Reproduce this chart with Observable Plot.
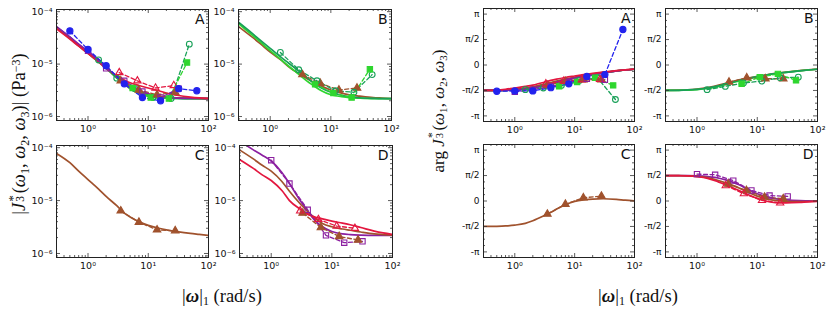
<!DOCTYPE html>
<html><head><meta charset="utf-8">
<script src="https://cdn.jsdelivr.net/npm/d3@7"></script>
<script src="https://cdn.jsdelivr.net/npm/@observablehq/plot@0.6"></script>
<style>
body{margin:0;background:#fff;}
#fig{position:relative;width:830px;height:312px;overflow:hidden;background:#fff;}
.panel{position:absolute;}
.lab{position:absolute;font-family:"Liberation Serif","DejaVu Serif",serif;font-size:18.5px;white-space:nowrap;color:#111;line-height:1;}
.ss{display:inline-block;position:relative;width:0.45em;height:1em;vertical-align:baseline;margin-left:0.06em;}
.s1{position:absolute;left:0.02em;top:-0.02em;font-size:0.68em;line-height:1;}
.s2{position:absolute;left:0.0em;top:0.74em;font-size:0.62em;line-height:1;}
.sb{font-size:0.65em;vertical-align:-0.3em;}
.sp{font-size:0.65em;vertical-align:0.45em;}
</style></head><body><div id="fig"></div><script>
const PI = Math.PI;
// shared x grid for the fitted curves (rad/s)
const xGrid = [0.3,0.5,0.7,1,1.5,2,3,4,5,7,10,15,20,30,50,70,100];

// colours
const cBlue="#2222ee", cPurple="#8b1fa0", cTeal="#18a058", cGreen="#2ed62e", cBrown="#a0522d", cRed="#e3173f";

// ---------- magnitude fit curves ----------
const magA_red    = [4.7e-5,3.0e-5,2.2e-5,1.6e-5,1.1e-5,8.2e-6,6.0e-6,5.0e-6,4.4e-6,3.9e-6,3.5e-6,3.1e-6,2.8e-6,2.55e-6,2.35e-6,2.27e-6,2.22e-6];
const magA_purple = [5.2e-5,3.3e-5,2.4e-5,1.75e-5,1.2e-5,8.8e-6,5.6e-6,4.2e-6,3.5e-6,2.85e-6,2.5e-6,2.35e-6,2.28e-6,2.24e-6,2.22e-6,2.21e-6,2.2e-6];
const magA_blue   = [5.1e-5,3.25e-5,2.35e-5,1.7e-5,1.17e-5,8.7e-6,5.6e-6,4.3e-6,3.6e-6,2.9e-6,2.55e-6,2.37e-6,2.3e-6,2.25e-6,2.22e-6,2.21e-6,2.2e-6];
const magA_teal   = [5.0e-5,3.2e-5,2.3e-5,1.65e-5,1.15e-5,8.6e-6,5.6e-6,4.3e-6,3.6e-6,2.9e-6,2.5e-6,2.3e-6,2.25e-6,2.22e-6,2.2e-6,2.2e-6,2.2e-6];
const magA_green  = [4.9e-5,3.1e-5,2.25e-5,1.6e-5,1.1e-5,8.3e-6,5.4e-6,4.1e-6,3.4e-6,2.75e-6,2.42e-6,2.28e-6,2.24e-6,2.21e-6,2.2e-6,2.2e-6,2.2e-6];
const magA_brown  = [4.9e-5,3.1e-5,2.25e-5,1.6e-5,1.1e-5,8.4e-6,5.8e-6,4.5e-6,3.8e-6,3.1e-6,2.7e-6,2.45e-6,2.35e-6,2.27e-6,2.23e-6,2.21e-6,2.2e-6];
const magB_teal   = [6.3e-5,3.9e-5,2.8e-5,2.0e-5,1.36e-5,1.05e-5,7.3e-6,5.6e-6,4.5e-6,3.5e-6,2.9e-6,2.55e-6,2.4e-6,2.28e-6,2.22e-6,2.2e-6,2.2e-6];
const magB_green  = [5.9e-5,3.6e-5,2.6e-5,1.8e-5,1.22e-5,9.2e-6,6.3e-6,4.8e-6,4.0e-6,3.1e-6,2.6e-6,2.4e-6,2.3e-6,2.24e-6,2.2e-6,2.2e-6,2.2e-6];
const magB_brown  = [5.2e-5,3.3e-5,2.4e-5,1.7e-5,1.2e-5,9.0e-6,6.5e-6,5.3e-6,4.6e-6,3.8e-6,3.2e-6,2.8e-6,2.6e-6,2.45e-6,2.3e-6,2.25e-6,2.2e-6];
const magC_brown  = [7.8e-5,5.2e-5,3.6e-5,2.5e-5,1.65e-5,1.2e-5,8.0e-6,5.8e-6,4.9e-6,4.0e-6,3.4e-6,3.0e-6,2.8e-6,2.6e-6,2.4e-6,2.3e-6,2.2e-6];
const magD_purple = [1.35e-4,9.2e-5,7.3e-5,5.6e-5,3.4e-5,2.1e-5,1.0e-5,6.3e-6,4.5e-6,3.2e-6,2.6e-6,2.35e-6,2.28e-6,2.23e-6,2.2e-6,2.2e-6,2.2e-6];
const magD_brown  = [9.1e-5,6.2e-5,4.7e-5,3.6e-5,2.3e-5,1.5e-5,8.7e-6,6.2e-6,4.9e-6,3.7e-6,3.2e-6,2.9e-6,2.75e-6,2.55e-6,2.35e-6,2.28e-6,2.22e-6];
const magD_red    = [6.0e-5,4.1e-5,3.1e-5,2.4e-5,1.55e-5,1.0e-5,6.9e-6,5.6e-6,5.0e-6,4.5e-6,4.1e-6,3.75e-6,3.5e-6,3.1e-6,2.65e-6,2.45e-6,2.3e-6];

// ---------- phase fit curves (rad) ----------
const phA_red    = [-1.57,-1.55,-1.50,-1.42,-1.32,-1.24,-1.08,-0.95,-0.87,-0.77,-0.68,-0.58,-0.52,-0.44,-0.35,-0.30,-0.25];
const phA_purple = [-1.57,-1.57,-1.56,-1.54,-1.49,-1.42,-1.28,-1.16,-1.06,-0.92,-0.80,-0.66,-0.58,-0.47,-0.37,-0.31,-0.26];
const phA_blue   = [-1.57,-1.57,-1.56,-1.53,-1.48,-1.41,-1.27,-1.15,-1.05,-0.91,-0.79,-0.66,-0.58,-0.47,-0.37,-0.31,-0.26];
const phA_teal   = [-1.57,-1.57,-1.56,-1.53,-1.47,-1.40,-1.27,-1.16,-1.07,-0.94,-0.82,-0.68,-0.59,-0.48,-0.37,-0.31,-0.26];
const phA_green  = [-1.57,-1.57,-1.56,-1.52,-1.45,-1.38,-1.24,-1.12,-1.03,-0.90,-0.78,-0.65,-0.57,-0.47,-0.36,-0.31,-0.26];
const phA_brown  = [-1.57,-1.56,-1.55,-1.51,-1.43,-1.35,-1.20,-1.08,-0.99,-0.87,-0.76,-0.64,-0.56,-0.46,-0.36,-0.30,-0.25];
const phB_teal   = [-1.57,-1.56,-1.54,-1.50,-1.42,-1.33,-1.17,-1.04,-0.95,-0.83,-0.72,-0.60,-0.53,-0.45,-0.36,-0.31,-0.26];
const phB_green  = [-1.57,-1.56,-1.55,-1.52,-1.45,-1.37,-1.21,-1.08,-0.98,-0.85,-0.73,-0.61,-0.54,-0.45,-0.36,-0.31,-0.26];
const phB_brown  = [-1.57,-1.55,-1.53,-1.48,-1.39,-1.30,-1.13,-1.00,-0.91,-0.80,-0.70,-0.59,-0.52,-0.44,-0.35,-0.30,-0.25];
const phC_brown  = [-1.57,-1.56,-1.54,-1.49,-1.38,-1.22,-0.93,-0.70,-0.50,-0.23,-0.02,0.08,0.12,0.14,0.10,0.05,0.01];
const phD_purple = [1.571,1.57,1.565,1.55,1.51,1.45,1.30,1.15,1.00,0.72,0.45,0.25,0.15,0.07,0.02,0.01,0.0];
const phD_brown  = [1.57,1.565,1.555,1.52,1.45,1.33,1.12,0.95,0.80,0.55,0.30,0.12,0.04,-0.02,-0.04,-0.03,-0.01];
const phD_red    = [1.57,1.56,1.545,1.50,1.40,1.26,1.00,0.80,0.64,0.40,0.16,-0.03,-0.10,-0.12,-0.09,-0.05,-0.02];

// ---------- measured points ----------
// panel A
const A_blue_x = [0.5,1,2,4,8,16,32,64];
const A_blue_mag = [4.3e-5,1.9e-5,9.3e-6,4.2e-6,2.3e-6,2.0e-6,3.4e-6,3.1e-6];
const A_blue_ph = [-1.62,-1.60,-1.60,-1.40,-1.16,-0.71,-0.59,2.19];
const A_purple_x = [1,2,4,8,16,32];
const A_purple_mag = [1.8e-5,8.3e-6,4.8e-6,3.0e-6,2.3e-6,3.4e-6];
const A_purple_ph = [-1.66,-1.52,-1.32,-1.05,-0.85,-0.91];
const A_teal_x = [1.5,3,6,12,24,48];
const A_teal_mag = [1.2e-5,5.4e-6,3.4e-6,2.3e-6,2.2e-6,2.4e-5];
const A_teal_ph = [-1.52,-1.42,-1.26,-0.95,-0.79,-2.13];
const A_green_x = [5.5,11,22,44];
const A_green_mag = [3.5e-6,2.3e-6,2.2e-6,1.07e-5];
const A_green_ph = [-1.32,-1.05,-0.79,-1.26];
const A_brown_x = [3.5,7,14,28];
const A_brown_mag = [4.8e-6,3.2e-6,2.6e-6,2.9e-6];
const A_brown_ph = [-1.26,-1.01,-0.91,-0.91];
const A_red_x = [3.3,6.6,13.2,26.5];
const A_red_mag = [6.9e-6,4.8e-6,3.5e-6,3.9e-6];
const A_red_ph = [-1.16,-0.99,-0.91,-0.89];
// panel B
const B_teal_x = [1.47,2.95,5.9,11.9,24,48];
const B_teal_mag = [1.67e-5,7.8e-6,4.8e-6,3.1e-6,2.9e-6,6.3e-6];
const B_teal_ph = [-1.52,-1.32,-1.11,-0.99,-0.79,-0.75];
const B_green_x = [5.5,11,22,44];
const B_green_mag = [4.1e-6,2.8e-6,2.3e-6,8.0e-6];
const B_green_ph = [-1.16,-0.75,-0.55,-0.95];
const B_brown_x = [3.4,6.7,13.6,27];
const B_brown_mag = [6.3e-6,4.3e-6,3.2e-6,3.5e-6];
const B_brown_ph = [-1.05,-0.79,-0.85,-0.85];
// panel C
const C_brown_x = [3.5,7,14,28];
const C_brown_mag = [6.4e-6,3.9e-6,2.8e-6,2.7e-6];
const C_brown_ph = [-0.81,-0.20,0.20,0.30];
// panel D
const D_purple_x = [1,2,4,8,16,32];
const D_purple_mag = [5.8e-5,2.1e-5,6.7e-6,2.2e-6,1.6e-6,1.7e-6];
const D_purple_ph = [1.66,1.62,1.26,0.65,0.34,0.28];
const D_brown_x = [3.3,6.6,13.2,27];
const D_brown_mag = [5.8e-6,3.1e-6,2.1e-6,1.8e-6];
const D_brown_ph = [1.05,0.65,0.24,0.14];
const D_red_x = [3,6,12,24];
const D_red_mag = [6.4e-6,4.4e-6,3.3e-6,3.0e-6];
const D_red_ph = [0.95,0.45,0.04,-0.12];

// tick labels
const xMajor = [1,10,100];
const xMajorLabels = ["10⁰","10¹","10²"];
const magMajor = [1e-6,1e-5,1e-4];
const magMajorLabels = ["10⁻⁶","10⁻⁵","10⁻⁴"];
const phMajor = [-PI,-PI/2,0,PI/2,PI];
const phMajorLabels = ["-π","-π/2","0","π/2","π"];
const panelLetters = ["A","B","C","D"];

// symbol styles per series
const sty = {
  blue:   {col:cBlue,   sym:"circle",   filled:true,  r:3.1},
  purple: {col:cPurple, sym:"square",   filled:false, r:3.0},
  teal:   {col:cTeal,   sym:"circle",   filled:false, r:2.9},
  green:  {col:cGreen,  sym:"square",   filled:true,  r:3.0},
  brown:  {col:cBrown,  sym:"triangle", filled:true,  r:2.8},
  red:    {col:cRed,    sym:"triangle", filled:false, r:2.7}
};

// minor ticks
const xMinor = [];
[0.1,1,10].forEach(b => [2,3,4,5,6,7,8,9].forEach(m => { const v=b*m; if (v>=0.3 && v<100) xMinor.push(v); }));
const magMinor = [9e-7];
[1e-6,1e-5].forEach(b => [2,3,4,5,6,7,8,9].forEach(m => magMinor.push(b*m)));
const phMinor = d3.range(-8,9).map(k => k*PI/8).filter((v,i) => i%4 !== 0);

const fig = document.getElementById("fig");

function tickMarks(w, h, yMaj, yMin) {
  const st = {stroke:"#333", strokeWidth:0.8};
  const L = 4, S = 2;
  return [
    Plot.tickX(xMajor, {x:d=>d, insetTop:h-L, ...st}),
    Plot.tickX(xMajor, {x:d=>d, insetBottom:h-L, ...st}),
    Plot.tickX(xMinor, {x:d=>d, insetTop:h-S, ...st}),
    Plot.tickX(xMinor, {x:d=>d, insetBottom:h-S, ...st}),
    Plot.tickY(yMaj, {y:d=>d, insetRight:w-L, ...st}),
    Plot.tickY(yMaj, {y:d=>d, insetLeft:w-L, ...st}),
    Plot.tickY(yMin, {y:d=>d, insetRight:w-S, ...st}),
    Plot.tickY(yMin, {y:d=>d, insetLeft:w-S, ...st})
  ];
}

function panel(cfg) {
  const {l, t, w, h, kind, curves, series, letter} = cfg;
  const mL = 42, mR = 12, mT = 6, mB = 24;
  const isMag = kind === "mag";
  const yScale = isMag ? {type:"log", domain:[8.4e-7, 1.1e-4]} : {type:"linear", domain:[-1.11*PI, 1.11*PI]};
  const yMaj = isMag ? magMajor : phMajor;
  const yMin = isMag ? magMinor : phMinor;
  const yLab = isMag ? magMajorLabels : phMajorLabels;
  const marks = [];
  curves.forEach(c => {
    marks.push(Plot.line(xGrid.map((x,i)=>({x, y:c.y[i]})), {x:"x", y:"y", stroke:c.col, strokeWidth:1.7, curve:"monotone-x", clip:true}));
  });
  series.forEach(s => {
    const rows = s.x.map((x,i)=>({x, y:s.y[i]}));
    marks.push(Plot.line(rows, {x:"x", y:"y", stroke:s.col, strokeWidth:1.3, strokeDasharray:"4,2.5", clip:true}));
  });
  series.forEach(s => {
    const rows = s.x.map((x,i)=>({x, y:s.y[i]}));
    marks.push(Plot.dot(rows, {x:"x", y:"y", symbol:s.sym, r:s.r, fill:s.filled ? s.col : "none", stroke:s.col, strokeWidth:1.1}));
  });
  marks.push(...tickMarks(w, h, yMaj, yMin));
  marks.push(Plot.frame({stroke:"#222", strokeWidth:1}));
  marks.push(Plot.axisX(xMajor, {tickSize:0, tickPadding:5, tickFormat:(d)=>xMajorLabels[xMajor.indexOf(d)], label:null, fontSize:9.5}));
  marks.push(Plot.axisY(yMaj, {tickSize:0, tickPadding:4, tickFormat:(d)=>yLab[yMaj.indexOf(d)], label:null, fontSize:isMag?9.5:9}));
  marks.push(Plot.text([letter], {text:d=>d, frameAnchor:"top-right", dx:-4, dy:5, fontSize:14, lineAnchor:"top", textAnchor:"end", fill:"#111"}));
  const chart = Plot.plot({
    width: w + mL + mR, height: h + mT + mB,
    marginLeft: mL, marginRight: mR, marginTop: mT, marginBottom: mB,
    x: {type:"log", domain:[0.3, 100]},
    y: yScale,
    style: {fontFamily:"'DejaVu Sans', sans-serif", fontSize:"9.5px", color:"#111", background:"transparent", overflow:"visible"},
    marks
  });
  const d = document.createElement("div");
  d.className = "panel";
  d.style.left = (l - mL) + "px";
  d.style.top = (t - mT) + "px";
  d.appendChild(chart);
  fig.appendChild(d);
}

const S = (name, x, y) => ({...sty[name], x, y});
const Cv = (col, y) => ({col, y});

// magnitude panels
panel({l:56, t:9, w:152, h:111, kind:"mag", letter:panelLetters[0],
  curves:[Cv(cBlue,magA_blue),Cv(cTeal,magA_teal),Cv(cGreen,magA_green),Cv(cBrown,magA_brown),Cv(cPurple,magA_purple),Cv(cRed,magA_red)],
  series:[S("teal",A_teal_x,A_teal_mag),S("green",A_green_x,A_green_mag),S("brown",A_brown_x,A_brown_mag),S("red",A_red_x,A_red_mag),S("purple",A_purple_x,A_purple_mag),S("blue",A_blue_x,A_blue_mag)]});
panel({l:238, t:9, w:153, h:111, kind:"mag", letter:panelLetters[1],
  curves:[Cv(cBrown,magB_brown),Cv(cGreen,magB_green),Cv(cTeal,magB_teal)],
  series:[S("brown",B_brown_x,B_brown_mag),S("teal",B_teal_x,B_teal_mag),S("green",B_green_x,B_green_mag)]});
panel({l:56, t:145, w:152, h:112, kind:"mag", letter:panelLetters[2],
  curves:[Cv(cBrown,magC_brown)],
  series:[S("brown",C_brown_x,C_brown_mag)]});
panel({l:239, t:145, w:153, h:112, kind:"mag", letter:panelLetters[3],
  curves:[Cv(cPurple,magD_purple),Cv(cBrown,magD_brown),Cv(cRed,magD_red)],
  series:[S("purple",D_purple_x,D_purple_mag),S("brown",D_brown_x,D_brown_mag),S("red",D_red_x,D_red_mag)]});

// phase panels
panel({l:483, t:8, w:151, h:113, kind:"ph", letter:panelLetters[0],
  curves:[Cv(cBlue,phA_blue),Cv(cTeal,phA_teal),Cv(cGreen,phA_green),Cv(cBrown,phA_brown),Cv(cPurple,phA_purple),Cv(cRed,phA_red)],
  series:[S("teal",A_teal_x,A_teal_ph),S("green",A_green_x,A_green_ph),S("brown",A_brown_x,A_brown_ph),S("red",A_red_x,A_red_ph),S("purple",A_purple_x,A_purple_ph),S("blue",A_blue_x,A_blue_ph)]});
panel({l:665, t:8, w:152, h:113, kind:"ph", letter:panelLetters[1],
  curves:[Cv(cBrown,phB_brown),Cv(cGreen,phB_green),Cv(cTeal,phB_teal)],
  series:[S("brown",B_brown_x,B_brown_ph),S("teal",B_teal_x,B_teal_ph),S("green",B_green_x,B_green_ph)]});
panel({l:483, t:144, w:151, h:113, kind:"ph", letter:panelLetters[2],
  curves:[Cv(cBrown,phC_brown)],
  series:[S("brown",C_brown_x,C_brown_ph)]});
panel({l:665, t:144, w:152, h:113, kind:"ph", letter:panelLetters[3],
  curves:[Cv(cPurple,phD_purple),Cv(cBrown,phD_brown),Cv(cRed,phD_red)],
  series:[S("purple",D_purple_x,D_purple_ph),S("brown",D_brown_x,D_brown_ph),S("red",D_red_x,D_red_ph)]});

// axis titles (real text)
function label(html, cx, cy, rot, size) {
  const d = document.createElement("div");
  d.className = "lab";
  d.innerHTML = html;
  d.style.left = cx + "px";
  d.style.top = cy + "px";
  if (size) d.style.fontSize = size + "px";
  d.style.transform = "translate(-50%,-50%)" + (rot ? " rotate(-90deg)" : "");
  fig.appendChild(d);
}
const Jstar = '<i>J</i><span class="ss"><span class="s1">*</span><span class="s2">3</span></span>';
const omegas = '(<i>ω</i><span class="sb">1</span>, <i>ω</i><span class="sb">2</span>, <i>ω</i><span class="sb">3</span>)';
label('|' + Jstar + omegas + '| (Pa<span class="sp">−3</span>)', 19, 134, true);
label('arg ' + Jstar + omegas, 438, 111, true, 17);
const xt = '|<b><i>ω</i></b>|<span class="sb">1</span> (rad/s)';
label(xt, 222, 297, false);
label(xt, 638, 297, false);
</script></body></html>
